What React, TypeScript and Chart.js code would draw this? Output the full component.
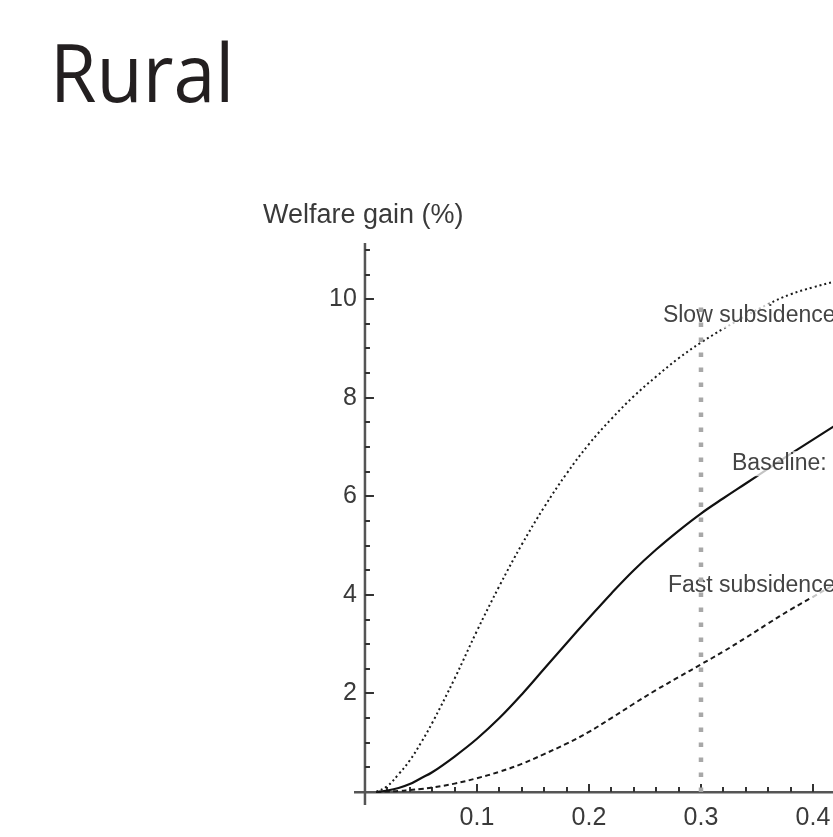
import React, { useEffect, useRef } from 'react';
import { Chart, registerables } from 'chart.js';

Chart.register(...registerables);

// ---- data ----
const xValues = [0.01, 0.02, 0.03, 0.04, 0.05, 0.06, 0.08, 0.10, 0.12, 0.14, 0.16, 0.18, 0.20, 0.22, 0.24, 0.26, 0.28, 0.30, 0.32, 0.34, 0.36, 0.38, 0.40, 0.42, 0.44, 0.46, 0.48];
const slowValues = [0, 0.12, 0.36, 0.64, 1.0, 1.40, 2.30, 3.27, 4.18, 5.02, 5.78, 6.46, 7.06, 7.57, 8.03, 8.43, 8.80, 9.12, 9.40, 9.66, 9.90, 10.10, 10.24, 10.36, 10.46, 10.54, 10.60];
const baselineValues = [0, 0.03, 0.08, 0.16, 0.28, 0.40, 0.72, 1.08, 1.50, 1.98, 2.50, 3.02, 3.53, 4.03, 4.50, 4.92, 5.30, 5.65, 5.96, 6.26, 6.56, 6.86, 7.15, 7.44, 7.72, 7.98, 8.20];
const fastValues = [0, 0.01, 0.02, 0.04, 0.06, 0.09, 0.17, 0.28, 0.41, 0.57, 0.77, 0.98, 1.22, 1.50, 1.79, 2.07, 2.33, 2.59, 2.85, 3.13, 3.42, 3.70, 3.96, 4.22, 4.48, 4.74, 5.00];

const markerX = [0.3, 0.3];
const markerY = [0, 10];

const xTickValues = [0.02, 0.04, 0.06, 0.08, 0.1, 0.12, 0.14, 0.16, 0.18, 0.2, 0.22, 0.24, 0.26, 0.28, 0.3, 0.32, 0.34, 0.36, 0.38, 0.4, 0.42, 0.44, 0.46, 0.48, 0.5];
const xTickLabels = ['0.1', '0.2', '0.3', '0.4', '0.5'];
const yTickValues = [0.5, 1, 1.5, 2, 2.5, 3, 3.5, 4, 4.5, 5, 5.5, 6, 6.5, 7, 7.5, 8, 8.5, 9, 9.5, 10, 10.5, 11];
const yTickLabels = ['2', '4', '6', '8', '10'];

const curveLabels = ['Slow subsidence', 'Baseline:', 'Fast subsidence'];
const curveLabelX = [0.266, 0.3277, 0.2705];
const curveLabelY = [9.53, 6.53, 4.06];

const titleText = 'Rural';
const yAxisTitle = 'Welfare gain (%)';

const CANVAS_W = 1000;
const CANVAS_H = 837;
// y tick labels sit a little to the left of the axis line (x = 0)
const Y_LABEL_ANCHOR = -0.0072;

const pts = (xs: number[], ys: number[]) => xs.map((x, i) => ({ x, y: ys[i] }));
const isLabelled = (v: number, labels: string[]) =>
  labels.some((l) => Math.abs(parseFloat(l) - v) < 1e-6);

const axisPlugin = {
  id: 'mathematicaAxes',
  beforeDatasetsDraw(chart: any) {
    const { ctx, scales, chartArea } = chart;
    const xs = scales.x;
    const ys = scales.y;
    const x0 = xs.getPixelForValue(0);
    const y0 = ys.getPixelForValue(0);
    ctx.save();
    // vertical axis line at x = 0
    ctx.strokeStyle = '#555';
    ctx.lineWidth = 2.5;
    ctx.beginPath();
    ctx.moveTo(x0, chartArea.top);
    ctx.lineTo(x0, chartArea.bottom);
    ctx.stroke();
    ctx.strokeStyle = '#333';
    ctx.lineWidth = 2;
    ctx.lineCap = 'butt';
    for (const v of yTickValues) {
      const py = Math.round(ys.getPixelForValue(v));
      const len = isLabelled(v, yTickLabels) ? 9 : 5;
      ctx.beginPath();
      ctx.moveTo(x0, py);
      ctx.lineTo(x0 + len, py);
      ctx.stroke();
    }
    for (const v of xTickValues) {
      const px = Math.round(xs.getPixelForValue(v));
      const len = isLabelled(v, xTickLabels) ? 8 : 5;
      ctx.beginPath();
      ctx.moveTo(px, y0);
      ctx.lineTo(px, y0 - len);
      ctx.stroke();
    }
    // axis title
    ctx.fillStyle = '#3a3a3a';
    ctx.font = '27px "Liberation Sans", Arial, sans-serif';
    ctx.textAlign = 'left';
    ctx.textBaseline = 'alphabetic';
    ctx.fillText(yAxisTitle, x0 - 102, chartArea.top - 20);
    ctx.restore();
  },
  beforeDatasetDraw(chart: any, args: any) {
    if (args.index !== 0) return;
    const { ctx, scales } = chart;
    ctx.save();
    ctx.font = '23px "Liberation Sans", Arial, sans-serif';
    ctx.textAlign = 'left';
    ctx.textBaseline = 'alphabetic';
    curveLabels.forEach((t, i) => {
      const px = scales.x.getPixelForValue(curveLabelX[i]);
      const py = scales.y.getPixelForValue(curveLabelY[i]);
      const w = ctx.measureText(t).width;
      ctx.fillStyle = 'rgba(255,255,255,0.75)';
      ctx.fillRect(px - 2, py - 19, w + 4, 25);
      ctx.fillStyle = '#444';
      ctx.fillText(t, px, py);
    });
    ctx.restore();
  },
};

export default function App() {
  const ref = useRef<HTMLCanvasElement | null>(null);

  useEffect(() => {
    if (!ref.current) return;
    const tickFont = { family: '"Liberation Sans", Arial, sans-serif', size: 25 };
    const chart = new Chart(ref.current, {
      type: 'line',
      data: {
        datasets: [
          {
            label: 'x = 0.3',
            data: pts(markerX, markerY),
            borderColor: '#a8a8a8',
            borderWidth: 4.5,
            borderDash: [4.5, 10.5],
            borderCapStyle: 'butt',
            pointRadius: 0,
            tension: 0,
            fill: false,
          },
          {
            label: 'Slow subsidence',
            data: pts(xValues, slowValues),
            borderColor: '#1a1a1a',
            borderWidth: 2,
            borderDash: [2, 3],
            pointRadius: 0,
            tension: 0.4,
            fill: false,
          },
          {
            label: 'Baseline',
            data: pts(xValues, baselineValues),
            borderColor: '#111',
            borderWidth: 2.2,
            pointRadius: 0,
            tension: 0.4,
            fill: false,
          },
          {
            label: 'Fast subsidence',
            data: pts(xValues, fastValues),
            borderColor: '#1a1a1a',
            borderWidth: 2,
            borderDash: [5, 3.5],
            pointRadius: 0,
            tension: 0.4,
            fill: false,
          },
        ],
      },
      options: {
        animation: false,
        responsive: false,
        devicePixelRatio: 1,
        layout: { padding: { left: 355, top: 243, right: 75, bottom: 32 } },
        plugins: { legend: { display: false }, tooltip: { enabled: false }, title: { display: false } },
        scales: {
          x: {
            type: 'linear',
            min: -0.0089,
            max: 0.5,
            position: { y: 0 },
            afterBuildTicks: (s: any) => {
              s.ticks = xTickValues.map((v) => ({ value: v }));
            },
            ticks: {
              autoSkip: false,
              maxRotation: 0,
              padding: 11,
              color: '#3a3a3a',
              font: tickFont,
              callback: (v: any) => (isLabelled(Number(v), xTickLabels) ? Number(v).toFixed(1) : ''),
            },
            grid: { display: false, drawTicks: false },
            border: { display: true, color: '#555', width: 2.5 },
          },
          y: {
            type: 'linear',
            min: -0.264,
            max: 11.14,
            position: { x: Y_LABEL_ANCHOR },
            afterBuildTicks: (s: any) => {
              s.ticks = yTickValues.map((v) => ({ value: v }));
            },
            ticks: {
              autoSkip: false,
              padding: 0,
              color: '#3a3a3a',
              font: tickFont,
              callback: (v: any) => (isLabelled(Number(v), yTickLabels) ? String(v) : ''),
            },
            grid: { display: false, drawTicks: false },
            border: { display: false },
          },
        },
      },
      plugins: [axisPlugin],
    } as any);
    return () => chart.destroy();
  }, []);

  return (
    <div
      style={{
        position: 'fixed',
        left: 0,
        top: 0,
        width: 833,
        height: 837,
        overflow: 'hidden',
        background: '#fff',
      }}
    >
      <canvas
        ref={ref}
        width={CANVAS_W}
        height={CANVAS_H}
        style={{ position: 'absolute', left: 0, top: 0, width: CANVAS_W, height: CANVAS_H }}
      />
      <div
        style={{
          position: 'absolute',
          left: 50,
          top: 30,
          fontFamily: '"Open Sans", "Noto Sans", sans-serif',
          fontSize: 81,
          lineHeight: 1,
          color: '#231f20',
          whiteSpace: 'nowrap',
          transform: 'scaleX(0.93)',
          transformOrigin: 'left top',
        }}
      >
        {titleText}
      </div>
    </div>
  );
}
